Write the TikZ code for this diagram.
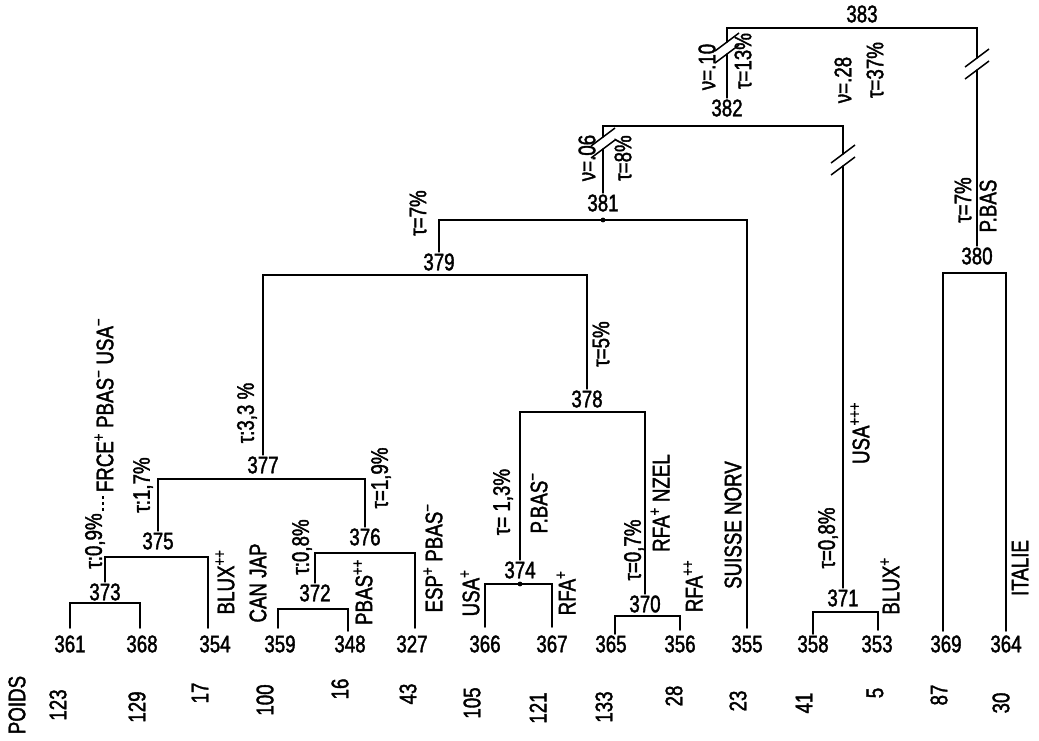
\documentclass[tikz,border=0pt]{standalone}
\usepackage{fontspec}
\setmainfont{Liberation Sans}[FakeStretch=0.78,FakeBold=1.6]
\begin{document}
\begin{tikzpicture}[x=1pt,y=-1pt,
  every node/.style={font=\fontsize{24}{26}\selectfont, inner sep=1.5pt},
  tree/.style={line width=1.8pt, line cap=round},
  rot/.style={rotate=90},
  brk/.pic={\draw[line width=1.5pt] (-12,3)--(12,-15) (-12,15)--(12,-3);}
]
\useasboundingbox (0,0) rectangle (1039,740);

% ---------- leaves ----------
\node (l361) at (70,644) {361};   \coordinate (b361) at (70,628);
\node (l368) at (142,644) {368};  \coordinate (b368) at (140,628);
\node (l354) at (215,644) {354};  \coordinate (b354) at (208,628);
\node (l359) at (280,644) {359};  \coordinate (b359) at (278,628);
\node (l348) at (350,644) {348};  \coordinate (b348) at (348,631);
\node (l327) at (412,644) {327};  \coordinate (b327) at (415,628);
\node (l366) at (485,644) {366};  \coordinate (b366) at (485,627);
\node (l367) at (552,644) {367};  \coordinate (b367) at (552,627);
\node (l365) at (611,644) {365};  \coordinate (b365) at (615,634);
\node (l356) at (680,644) {356};  \coordinate (b356) at (680,630);
\node (l355) at (747,644) {355};  \coordinate (b355) at (747,628);
\node (l358) at (813,644) {358};  \coordinate (b358) at (813,634);
\node (l353) at (877,644) {353};  \coordinate (b353) at (878,630);
\node (l369) at (946,644) {369};  \coordinate (b369) at (943,631);
\node (l364) at (1006,644) {364}; \coordinate (b364) at (1006,631);

% ---------- clusters ----------
\node (n373) at (105,592) {373}; \coordinate (h373) at (105,603);
\node (n375) at (158,541) {375}; \coordinate (h375) at (158,557);
\node (n372) at (315,593) {372}; \coordinate (h372) at (315,609);
\node (n376) at (365,537) {376}; \coordinate (h376) at (365,553);
\node (n377) at (263,465) {377}; \coordinate (h377) at (263,479);
\node (n374) at (520,570) {374}; \coordinate (h374) at (520,584);
\node (n370) at (645,604) {370}; \coordinate (h370) at (645,616);
\node (n378) at (587,399) {378}; \coordinate (h378) at (587,412);
\node (n379) at (439,262) {379}; \coordinate (h379) at (439,275);
\node (n381) at (603,203) {381}; \coordinate (h381) at (603,220);
\node (n371) at (843,598) {371}; \coordinate (h371) at (843,612);
\node (n382) at (727,108) {382}; \coordinate (h382) at (727,126);
\node (n380) at (977,256) {380}; \coordinate (h380) at (977,273);
\node (n383) at (862,14)  {383}; \coordinate (h383) at (862,28);

% break points
\coordinate (k382a) at (727,42);  \coordinate (k382b) at (727,54);
\coordinate (k380a) at (977,58);  \coordinate (k380b) at (977,70);
\coordinate (k381a) at (603,137); \coordinate (k381b) at (603,149);
\coordinate (k371a) at (843,154); \coordinate (k371b) at (843,166);

% ---------- tree lines ----------
\draw[tree] (b361) |- (h373) -| (b368);
\draw[tree] (n373.north) |- (h375) -| (b354);
\draw[tree] (b359) |- (h372) -| (b348);
\draw[tree] (n372.north) |- (h376) -| (b327);
\draw[tree] (n375.north) |- (h377) -| (n376.north);
\draw[tree] (b366) |- (h374) -| (b367);
\draw[tree] (b365) |- (h370) -| (b356);
\draw[tree] (n374.north) |- (h378) -| (n370.north);
\draw[tree] (n377.north) |- (h379) -| (n378.north);
\draw[tree] (n379.north) |- (h381) -| (b355);
\draw[tree] (b358) |- (h371) -| (b353);
\draw[tree] (k381a) |- (h382) -| (k371a);
\draw[tree] (n381.north) -- (k381b);
\draw[tree] (n371.north) -- (k371b);
\draw[tree] (b369) |- (h380) -| (b364);
\draw[tree] (k382a) |- (h383) -| (k380a);
\draw[tree] (n382.north) -- (k382b);
\draw[tree] (n380.north) -- (k380b);

\pic at (727,48) {brk};
\pic at (977,64) {brk};
\pic at (603,143) {brk};
\pic at (843,160) {brk};

\fill (h381) circle (2.4pt);
\fill (h374) circle (2.4pt);

% ---------- rotated annotations ----------
\node[rot] (t1) at (95,541) {τ:0,9\%};
\coordinate (dA) at (103,511); \coordinate (dB) at (103,493);
\draw[line width=1.2pt, dash pattern=on 3pt off 3pt] (dA) -- (dB);
\node[rot] (t2) at (104,405) {FRCE\textsuperscript{+} PBAS\textsuperscript{−} USA\textsuperscript{−}};
\node[rot] (t3) at (143,485) {τ:1,7\%};
\node[rot] (t4) at (247,413) {τ:3,3 \%};
\node[rot] (t5) at (381,478) {τ=1,9\%};
\node[rot] (t6) at (302,547) {τ:0,8\%};
\node[rot] (t7) at (225,582) {BLUX\textsuperscript{++}};
\node[rot] (t8) at (258,583) {CAN JAP};
\node[rot] (t9) at (363,592) {PBAS\textsuperscript{++}};
\node[rot] (t10) at (433,558) {ESP\textsuperscript{+} PBAS\textsuperscript{−}};
\node[rot] (t11) at (470,593) {USA\textsuperscript{+}};
\node[rot] (t12) at (503,502) {τ= 1,3\%};
\node[rot] (t13) at (539,503) {P.BAS\textsuperscript{−}};
\node[rot] (t14) at (566,593) {RFA\textsuperscript{+}};
\node[rot] (t15) at (634,550) {τ=0,7\%};
\node[rot] (t16) at (660,503) {RFA\textsuperscript{+} NZEL};
\node[rot] (t17) at (693,586) {RFA\textsuperscript{++}};
\node[rot] (t18) at (733,525) {SUISSE NORV};
\node[rot] (t19) at (601,344) {τ=5\%};
\node[rot] (t20) at (418,213) {τ=7\%};
\node[rot] (t21) at (587,158) {ν=.06};
\node[rot] (t22) at (623,158) {τ=8\%};
\node[rot] (t23) at (707,67) {ν=.10};
\node[rot] (t24) at (743,61) {τ=13\%};
\node[rot] (t25) at (843,80) {ν=.28};
\node[rot] (t26) at (875,70) {τ=37\%};
\node[rot] (t27) at (828,538) {τ=0,8\%};
\node[rot] (t28) at (860,433) {USA\textsuperscript{+++}};
\node[rot] (t29) at (890,586) {BLUX\textsuperscript{+}};
\node[rot] (t30) at (963,200) {τ=7\%};
\node[rot] (t31) at (988,206) {P.BAS};
\node[rot] (t32) at (1020,568) {ITALIE};

% ---------- weights ----------
\node[rot] (w0) at (17,705) {POIDS};
\node[rot] (w1) at (58,705) {123};
\node[rot] (w2) at (137,707) {129};
\node[rot] (w3) at (200,693) {17};
\node[rot] (w4) at (265,700) {100};
\node[rot] (w5) at (340,689) {16};
\node[rot] (w6) at (408,694) {43};
\node[rot] (w7) at (472,703) {105};
\node[rot] (w8) at (538,708) {121};
\node[rot] (w9) at (604,707) {133};
\node[rot] (w10) at (674,696) {28};
\node[rot] (w11) at (738,701) {23};
\node[rot] (w12) at (804,703) {41};
\node[rot] (w13) at (875,693) {5};
\node[rot] (w14) at (939,695) {87};
\node[rot] (w15) at (1001,703) {30};
\end{tikzpicture}
\end{document}
